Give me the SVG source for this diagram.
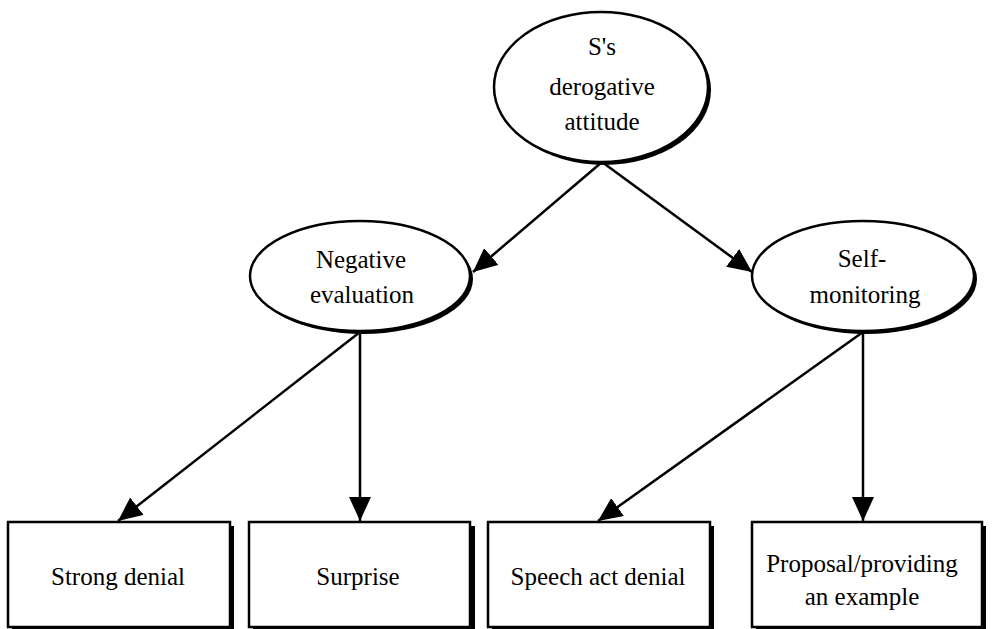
<svg xmlns="http://www.w3.org/2000/svg" width="992" height="629" viewBox="0 0 992 629">
<defs>
<style>
.t{font-size:25px;fill:#000;text-anchor:middle}
.sh{fill:#000}
.n{fill:#fff;stroke:#000;stroke-width:2.5}
.c{stroke:#000;stroke-width:2.5;fill:none}
</style>
<marker id="ah" markerUnits="userSpaceOnUse" markerWidth="26" markerHeight="22" refX="24" refY="11" orient="auto">
<path d="M0,0 L24,11 L0,22 Z" fill="#000"/>
</marker>
</defs>
<rect width="992" height="629" fill="#fff"/>
<g id="connectors">
<line class="c" x1="602" y1="162" x2="473" y2="272" marker-end="url(#ah)"/>
<line class="c" x1="602" y1="162" x2="752" y2="272" marker-end="url(#ah)"/>
<line class="c" x1="360" y1="332" x2="118" y2="521" marker-end="url(#ah)"/>
<line class="c" x1="360" y1="332" x2="360" y2="521" marker-end="url(#ah)"/>
<line class="c" x1="863" y1="332" x2="598" y2="521" marker-end="url(#ah)"/>
<line class="c" x1="863" y1="332" x2="863" y2="521" marker-end="url(#ah)"/>
</g>
<g font-family="'Liberation Serif', 'DejaVu Serif', serif">
<g id="n-top">
<ellipse class="sh" cx="604" cy="90" rx="107" ry="75"/>
<ellipse class="n" cx="601" cy="87" rx="107" ry="75"/>
<text class="t" x="602" y="55">S's</text>
<text class="t" x="602" y="95">derogative</text>
<text class="t" x="602" y="130">attitude</text>
</g>
<g id="n-neg">
<ellipse class="sh" cx="363" cy="279" rx="110" ry="55"/>
<ellipse class="n" cx="360" cy="276" rx="110" ry="55"/>
<text class="t" x="361" y="268">Negative</text>
<text class="t" x="362" y="303">evaluation</text>
</g>
<g id="n-self">
<ellipse class="sh" cx="866" cy="279" rx="111" ry="55"/>
<ellipse class="n" cx="863" cy="276" rx="111" ry="55"/>
<text class="t" x="862" y="267">Self-</text>
<text class="t" x="865" y="303">monitoring</text>
</g>
<g id="b-strong">
<rect class="sh" x="12" y="526" width="222" height="106"/>
<rect class="n" x="8" y="522" width="222" height="105"/>
<text class="t" x="118" y="585">Strong denial</text>
</g>
<g id="b-surprise">
<rect class="sh" x="253" y="526" width="222" height="106"/>
<rect class="n" x="249" y="522" width="221" height="105"/>
<text class="t" x="358" y="585">Surprise</text>
</g>
<g id="b-speech">
<rect class="sh" x="492" y="526" width="222" height="106"/>
<rect class="n" x="488" y="522" width="222" height="105"/>
<text class="t" x="598" y="585">Speech act denial</text>
</g>
<g id="b-proposal">
<rect class="sh" x="756" y="526" width="230" height="106"/>
<rect class="n" x="752" y="522" width="230" height="105"/>
<text class="t" x="862" y="572">Proposal/providing</text>
<text class="t" x="862" y="605">an example</text>
</g>
</g>
</svg>
